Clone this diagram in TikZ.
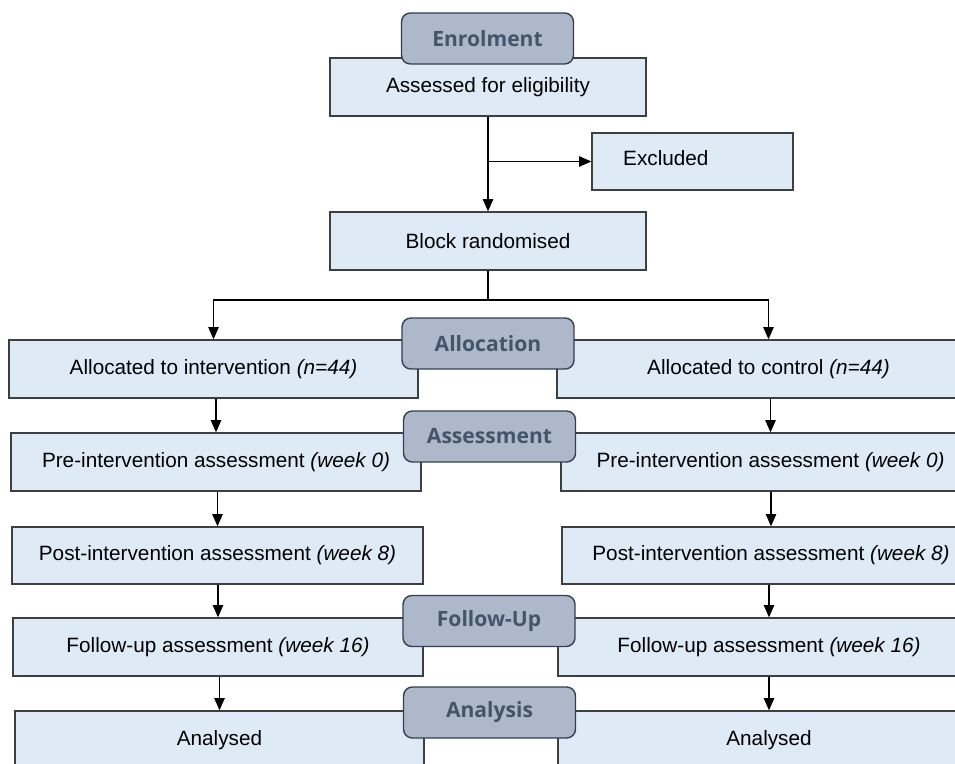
\documentclass[tikz,border=0pt]{standalone}
\usepackage{fontspec}
\setmainfont{Liberation Sans}
\newfontfamily\headfont{Open Sans}
\usepackage{tikz}
\usetikzlibrary{arrows.meta}

\definecolor{boxfill}{HTML}{DEEBF7}
\definecolor{boxline}{HTML}{3F3F3F}
\definecolor{hdrfill}{HTML}{ADB9CA}
\definecolor{hdrline}{HTML}{333F50}
\definecolor{hdrtext}{HTML}{44546A}

\tikzset{
    box/.style={draw=boxline, fill=boxfill, line width=0.8pt, inner sep=0pt,
        font=\fontsize{11.8}{13}\selectfont},
    hdr/.style={draw=hdrline, fill=hdrfill, line width=0.8pt, rounded corners=5pt,
        minimum width=3.44cm, minimum height=1.02cm, inner sep=0pt,
        text=hdrtext, font=\headfont\bfseries\fontsize{12}{14}\selectfont},
    arr/.style={-{Triangle[length=7pt, width=6pt]}, line width=0.6pt, black}
}

\begin{document}
\begin{tikzpicture}[x=0.02cm, y=-0.02cm]
                \useasboundingbox (0,0) rectangle (955,763);
                \clip (0,0) rectangle (955,763);

                \node[box, minimum width=6.32cm, minimum height=1.16cm] (elig) at (488,87) {Assessed for eligibility};
                \node[box, minimum width=4.02cm, minimum height=1.14cm] (excl) at (692.5,161.5) {};
                \node[anchor=west, font=\fontsize{11.8}{13}\selectfont] (excltext) at (617,158) {Excluded};
                \node[box, minimum width=6.32cm, minimum height=1.16cm] (block) at (488,241) {Block randomised};

                \node[box, minimum width=8.18cm, minimum height=1.16cm] (alloc1) at (213.5,369) {Allocated to intervention \textit{(n=44)}};
                \node[box, minimum width=8.46cm, minimum height=1.16cm] (alloc2) at (768.5,369) {Allocated to control \textit{(n=44)}};

                \node[box, minimum width=8.20cm, minimum height=1.16cm] (pre1) at (216,462) {Pre-intervention assessment \textit{(week 0)}};
                \node[box, minimum width=8.38cm, minimum height=1.16cm] (pre2) at (770.5,462) {Pre-intervention assessment \textit{(week 0)}};

                \node[box, minimum width=8.22cm, minimum height=1.14cm] (post1) at (217.5,555.5) {Post-intervention assessment \textit{(week 8)}};
                \node[box, minimum width=8.36cm, minimum height=1.14cm] (post2) at (771,555.5) {Post-intervention assessment \textit{(week 8)}};

                \node[box, minimum width=8.20cm, minimum height=1.16cm] (fol1) at (218,647) {Follow-up assessment \textit{(week 16)}};
                \node[box, minimum width=8.44cm, minimum height=1.16cm] (fol2) at (769,647) {Follow-up assessment \textit{(week 16)}};

                \node[box, minimum width=8.18cm, minimum height=1.16cm] (ana1) at (219.5,740) {Analysed};
                \node[box, minimum width=8.44cm, minimum height=1.16cm] (ana2) at (769,740) {Analysed};

                \node[hdr] (enrolH) at (487.5,38.5) {Enrolment};
                \node[hdr] (allocH) at (488,343.5) {Allocation};
                \node[hdr] (assessH) at (489.5,436.5) {Assessment};
                \node[hdr] (follH) at (489,621) {Follow-Up};
                \node[hdr] (anaH) at (489.5,712.5) {Analysis};

                \coordinate (split) at (488,300);

                \draw[arr] (elig.south) -- (block.north);
                \draw[arr] (elig.south |- excl.west) -- (excl.west);
                \draw[line width=0.6pt] (block.south) -- (split);
                \draw[arr] (split) -| (alloc1.north);
                \draw[arr] (split) -| (alloc2.north);

                \draw[arr] (pre1.north |- alloc1.south) -- (pre1.north);
                \draw[arr] (pre2.north |- alloc2.south) -- (pre2.north);
                \draw[arr] (post1.north |- pre1.south) -- (post1.north);
                \draw[arr] (post2.north |- pre2.south) -- (post2.north);
                \draw[arr] (fol1.north |- post1.south) -- (fol1.north);
                \draw[arr] (fol2.north |- post2.south) -- (fol2.north);
                \draw[arr] (ana1.north |- fol1.south) -- (ana1.north);
                \draw[arr] (ana2.north |- fol2.south) -- (ana2.north);

            \end{tikzpicture}
\end{document}
